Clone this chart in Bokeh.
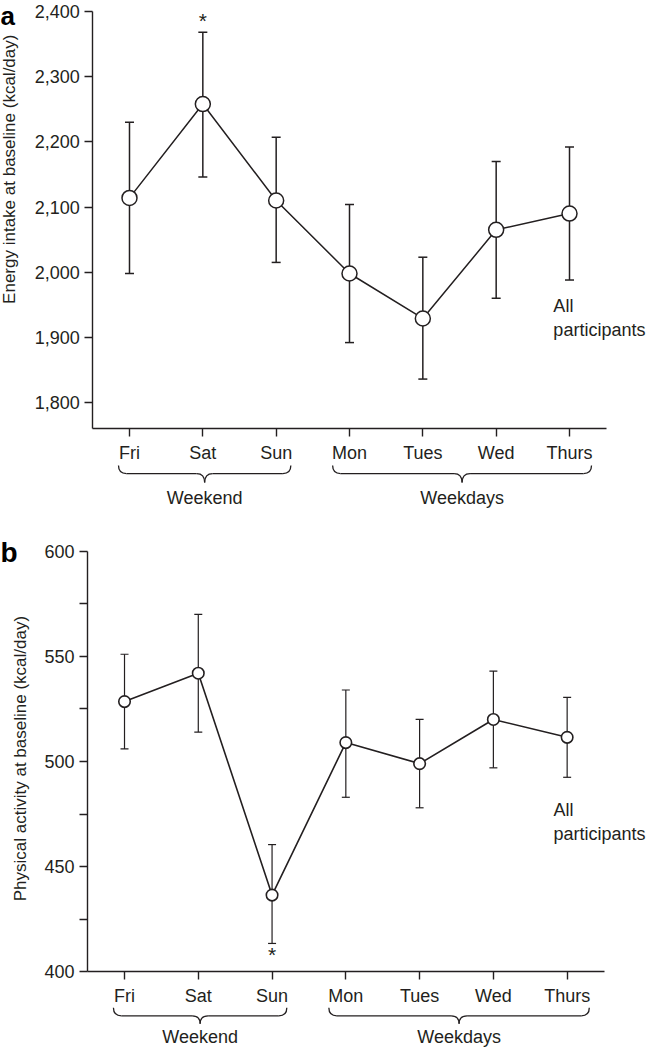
import math
from bokeh.plotting import figure
from bokeh.models import (FixedTicker, LinearAxis, NumeralTickFormatter, Range1d,
                          ColumnDataSource, BasicTickFormatter)
from bokeh.layouts import column
from bokeh.embed import file_html
from bokeh.resources import INLINE
from bokeh.core.properties import value

# ---------------- data ----------------
days = ["Fri", "Sat", "Sun", "Mon", "Tues", "Wed", "Thurs"]
groups = ["Weekend", "Weekdays"]
group_first = [0, 3]
group_last = [2, 6]

energy_mean = [2114, 2258, 2110, 1998, 1929, 2065, 2090]
energy_upper = [2230, 2368, 2207, 2104, 2023, 2170, 2192]
energy_lower = [1998, 2146, 2015, 1892, 1836, 1960, 1988]
energy_ticks = [1800, 1900, 2000, 2100, 2200, 2300, 2400]
energy_floor = 1760
energy_star_day = 1  # Sat

activity_mean = [528.5, 542, 436.5, 509, 499, 520, 511.5]
activity_upper = [551, 570, 460.5, 534, 520, 543, 530.5]
activity_lower = [506, 514, 413.5, 483, 478, 497, 492.5]
activity_ticks = [400, 450, 500, 550, 600]
activity_minor = [425, 475, 525, 575]
activity_floor = 400
activity_star_day = 2  # Sun

FONT = "Liberation Sans"
INK = "#231f20"
FS = "18px"
W = 654


def make_panel(letter, ylabel, mean, lower, upper, ticks, minor, fmt, y_floor,
               xr, yr, height, marker_size, cap_size, err_w, line_w,
               star_day, star_dy, ylabel_y, ylabel_dx, note_x, note_y,
               brace_px, group_label_px, letter_dy, letter_size):
    p = figure(width=W, height=height, x_range=Range1d(*xr), y_range=Range1d(*yr),
               output_backend="svg", toolbar_location=None, min_border=0,
               x_axis_type=None, y_axis_type=None, outline_line_color=None,
               background_fill_color="white", border_fill_color="white")
    ppx = W / (xr[1] - xr[0])        # pixels per x unit
    ppy = height / (yr[1] - yr[0])   # pixels per y unit
    x_lo, x_hi = -0.5, len(days) - 0.5

    yaxis = LinearAxis(fixed_location=x_lo, bounds=(y_floor, ticks[-1]),
                       ticker=FixedTicker(ticks=ticks, minor_ticks=minor), formatter=fmt,
                       major_tick_out=8, major_tick_in=0,
                       minor_tick_out=8 if minor else 0, minor_tick_in=0,
                       major_label_standoff=5,
                       axis_line_color=INK, axis_line_width=1.4,
                       major_tick_line_color=INK, major_tick_line_width=1.4,
                       minor_tick_line_color=INK, minor_tick_line_width=1.4,
                       major_label_text_font=FONT, major_label_text_font_size=FS,
                       major_label_text_color=INK)
    p.add_layout(yaxis, "left")

    xaxis = LinearAxis(fixed_location=y_floor, bounds=(x_lo, x_hi),
                       ticker=FixedTicker(ticks=list(range(len(days)))),
                       major_label_overrides={i: d for i, d in enumerate(days)},
                       major_tick_out=8, major_tick_in=0,
                       minor_tick_out=0, minor_tick_in=0,
                       major_label_standoff=6,
                       axis_line_color=INK, axis_line_width=1.4,
                       major_tick_line_color=INK, major_tick_line_width=1.4,
                       major_label_text_font=FONT, major_label_text_font_size=FS,
                       major_label_text_color=INK)
    p.add_layout(xaxis, "below")

    src = ColumnDataSource(dict(x=list(range(len(days))), mean=mean, lower=lower, upper=upper))
    p.segment(x0="x", y0="lower", x1="x", y1="upper", source=src,
              line_color=INK, line_width=err_w)
    p.scatter(x="x", y="upper", marker="dash", size=cap_size, source=src,
              line_color=INK, line_width=err_w)
    p.scatter(x="x", y="lower", marker="dash", size=cap_size, source=src,
              line_color=INK, line_width=err_w)
    p.line(x="x", y="mean", source=src, line_color=INK, line_width=line_w)
    p.scatter(x="x", y="mean", marker="circle", size=marker_size, source=src,
              fill_color="white", line_color=INK, line_width=line_w)

    # significance star (above the upper cap if star_dy < 0, else below the lower cap)
    star_y = upper[star_day] if star_dy < 0 else lower[star_day]
    p.text(x=[star_day], y=[star_y], text=["*"], text_align="center",
           text_baseline="alphabetic", y_offset=star_dy, text_font=value(FONT),
           text_font_size="21px", text_color=INK)

    # braces below the day labels
    pads_l = [0.15, 0.23]
    pads_r = [0.20, 0.30]
    rx = 8 / ppx
    y_top = y_floor - brace_px[0] / ppy
    y_mid = y_floor - brace_px[1] / ppy
    y_tip = y_floor - brace_px[2] / ppy
    q = dict(x0=[], y0=[], x1=[], y1=[], cx=[], cy=[])
    s = dict(x0=[], y0=[], x1=[], y1=[])
    gx, gy = [], []
    for g, a, b in zip(range(len(groups)), group_first, group_last):
        L = a - pads_l[g]
        R = b + pads_r[g]
        M = (L + R) / 2
        for (x0, y0, x1, y1, cx, cy) in [
            (L, y_top, L + rx, y_mid, L, y_mid),
            (M - rx, y_mid, M, y_tip, M, y_mid),
            (M, y_tip, M + rx, y_mid, M, y_mid),
            (R - rx, y_mid, R, y_top, R, y_mid),
        ]:
            q["x0"].append(x0); q["y0"].append(y0); q["x1"].append(x1)
            q["y1"].append(y1); q["cx"].append(cx); q["cy"].append(cy)
        for (x0, x1) in [(L + rx, M - rx), (M + rx, R - rx)]:
            s["x0"].append(x0); s["y0"].append(y_mid); s["x1"].append(x1); s["y1"].append(y_mid)
        gx.append(M)
        gy.append(y_floor - group_label_px / ppy)
    p.quadratic(x0="x0", y0="y0", x1="x1", y1="y1", cx="cx", cy="cy",
                source=ColumnDataSource(q), line_color=INK, line_width=1.3)
    p.segment(x0="x0", y0="y0", x1="x1", y1="y1", source=ColumnDataSource(s),
              line_color=INK, line_width=1.3)
    p.text(x=gx, y=gy, text=groups, text_align="center", text_baseline="alphabetic",
           text_font=value(FONT), text_font_size=FS, text_color=INK)

    # annotation
    p.text(x=[note_x], y=[note_y], text=["All\nparticipants"], text_align="left",
           text_baseline="top", text_font=value(FONT), text_font_size=FS,
           text_color=INK, text_line_height=1.2)

    # y axis title
    p.text(x=[xr[0]], y=[ylabel_y], text=[ylabel], angle=math.pi / 2,
           x_offset=ylabel_dx, text_align="center", text_baseline="middle",
           text_font=value(FONT), text_font_size="17px", text_color=INK)

    # panel letter
    p.text(x=[xr[0]], y=[ticks[-1]], text=[letter], text_align="left",
           text_baseline="alphabetic", y_offset=letter_dy, x_offset=0,
           text_font=value(FONT), text_font_size=letter_size, text_font_style="bold",
           text_color="#000000")
    return p


pa = make_panel("a", "Energy intake at baseline (kcal/day)",
                energy_mean, energy_lower, energy_upper, energy_ticks, [],
                NumeralTickFormatter(format="0,0"), energy_floor,
                (-1.759, 7.159), (1619.0, 2416.9), 520, 15, 9, 1.5, 1.5,
                energy_star_day, -12, 2158, 9, 5.78, 1964,
                (37, 45, 54), 69, 4, "26px")

pb = make_panel("b", "Physical activity at baseline (kcal/day)",
                activity_mean, activity_lower, activity_upper, activity_ticks, activity_minor,
                BasicTickFormatter(), activity_floor,
                (-1.681, 7.184), (362.6, 614.6), 530, 11.5, 8, 1.2, 1.6,
                activity_star_day, 11, 501.4, 20, 5.815, 481.5,
                (36, 44, 52), 65, 1, "28px")

layout = column(pa, pb, spacing=0)
open("out.html", "w").write(file_html(layout, INLINE))
